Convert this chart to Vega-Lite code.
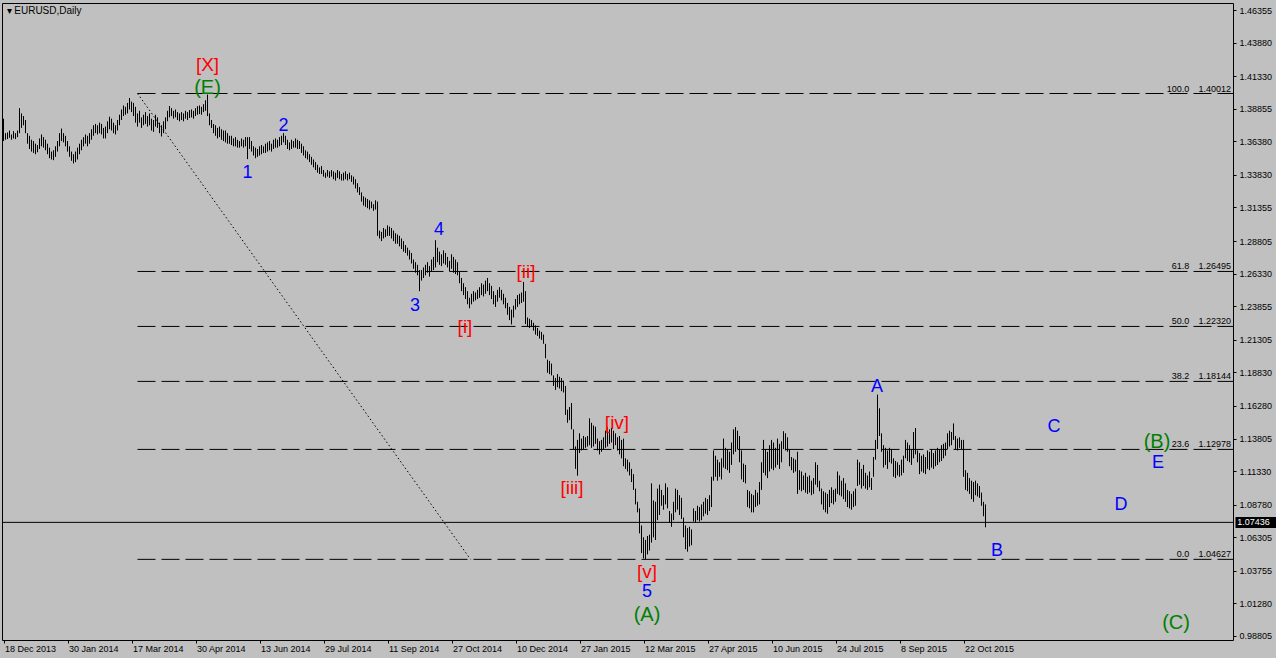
{
"$schema": "https://vega.github.io/schema/vega-lite/v6.json",
"width": 1231, "height": 637,
"autosize": {"type": "none"},
"padding": {"left": 2, "top": 3, "right": 43, "bottom": 18},
"background": "#C0C0C0",
"config": {
  "view": {"stroke": null, "fill": "#C0C0C0"},
  "axis": {"grid": false, "domainColor": "#000000", "tickColor": "#000000", "labelColor": "#000000", "labelFont": "Liberation Sans", "labelFontSize": 9, "domainWidth": 1, "tickWidth": 1}
},
"resolve": {"axis": {"x": "independent", "y": "independent"}},
"datasets": {
"header": [{"t":"▾  EURUSD,Daily"}],
"fib": [
{"pct":"100.0","level":1.40012},{"pct":"61.8","level":1.26495},{"pct":"50.0","level":1.22320},{"pct":"38.2","level":1.18144},{"pct":"23.6","level":1.12978},{"pct":"0.0","level":1.04627}
],
"trend": [{"i1":67,"p1":1.40012,"i2":233.5,"p2":1.04627}],
"current": [{"price":1.07436}],
"waves": [
{"t":"[X]","i":102,"p":1.4215,"deg":"Intermediate"},
{"t":"(E)","i":102,"p":1.4045,"deg":"Primary"},
{"t":"1","i":122,"p":1.3397,"deg":"Minor"},
{"t":"2","i":140,"p":1.3754,"deg":"Minor"},
{"t":"3","i":205.75,"p":1.2387,"deg":"Minor"},
{"t":"4","i":217.75,"p":1.2964,"deg":"Minor"},
{"t":"[i]","i":230.75,"p":1.2228,"deg":"Intermediate"},
{"t":"[ii]","i":261.25,"p":1.2645,"deg":"Intermediate"},
{"t":"[iii]","i":284.25,"p":1.1005,"deg":"Intermediate"},
{"t":"[iv]","i":306.75,"p":1.1498,"deg":"Intermediate"},
{"t":"[v]","i":321.75,"p":1.0365,"deg":"Intermediate"},
{"t":"5","i":321.75,"p":1.0215,"deg":"Minor"},
{"t":"(A)","i":321.75,"p":1.0040,"deg":"Primary"},
{"t":"A","i":436.75,"p":1.1772,"deg":"Minor"},
{"t":"B","i":496.75,"p":1.0526,"deg":"Minor"},
{"t":"C","i":525.25,"p":1.1468,"deg":"Minor"},
{"t":"D","i":558.75,"p":1.0876,"deg":"Minor"},
{"t":"E","i":577.25,"p":1.1195,"deg":"Minor"},
{"t":"(B)","i":576.75,"p":1.1354,"deg":"Primary"},
{"t":"(C)","i":586.25,"p":0.9979,"deg":"Primary"}
],
"bars": [
{"i":0,"h":1.3810,"l":1.3640},{"i":1,"h":1.3700,"l":1.3650},{"i":2,"h":1.3705,"l":1.3655},{"i":3,"h":1.3720,"l":1.3665},{"i":4,"h":1.3690,"l":1.3650},
{"i":5,"h":1.3715,"l":1.3660},{"i":6,"h":1.3700,"l":1.3655},{"i":7,"h":1.3720,"l":1.3670},{"i":8,"h":1.3890,"l":1.3700},{"i":9,"h":1.3850,"l":1.3740},
{"i":10,"h":1.3830,"l":1.3760},{"i":11,"h":1.3800,"l":1.3700},{"i":12,"h":1.3700,"l":1.3620},{"i":13,"h":1.3680,"l":1.3580},{"i":14,"h":1.3650,"l":1.3560},
{"i":15,"h":1.3640,"l":1.3550},{"i":16,"h":1.3620,"l":1.3540},{"i":17,"h":1.3610,"l":1.3555},{"i":18,"h":1.3660,"l":1.3580},{"i":19,"h":1.3690,"l":1.3600},
{"i":20,"h":1.3670,"l":1.3590},{"i":21,"h":1.3650,"l":1.3570},{"i":22,"h":1.3620,"l":1.3540},{"i":23,"h":1.3590,"l":1.3510},{"i":24,"h":1.3560,"l":1.3500},
{"i":25,"h":1.3570,"l":1.3495},{"i":26,"h":1.3600,"l":1.3520},{"i":27,"h":1.3640,"l":1.3560},{"i":28,"h":1.3700,"l":1.3600},{"i":29,"h":1.3735,"l":1.3640},
{"i":30,"h":1.3700,"l":1.3630},{"i":31,"h":1.3680,"l":1.3600},{"i":32,"h":1.3640,"l":1.3560},{"i":33,"h":1.3600,"l":1.3520},{"i":34,"h":1.3560,"l":1.3490},
{"i":35,"h":1.3540,"l":1.3470},{"i":36,"h":1.3560,"l":1.3480},{"i":37,"h":1.3590,"l":1.3500},{"i":38,"h":1.3620,"l":1.3540},{"i":39,"h":1.3650,"l":1.3570},
{"i":40,"h":1.3670,"l":1.3600},{"i":41,"h":1.3690,"l":1.3620},{"i":42,"h":1.3680,"l":1.3600},{"i":43,"h":1.3700,"l":1.3620},{"i":44,"h":1.3730,"l":1.3650},
{"i":45,"h":1.3760,"l":1.3680},{"i":46,"h":1.3770,"l":1.3700},{"i":47,"h":1.3760,"l":1.3690},{"i":48,"h":1.3780,"l":1.3700},{"i":49,"h":1.3770,"l":1.3690},
{"i":50,"h":1.3740,"l":1.3660},{"i":51,"h":1.3750,"l":1.3660},{"i":52,"h":1.3790,"l":1.3700},{"i":53,"h":1.3825,"l":1.3730},{"i":54,"h":1.3810,"l":1.3720},
{"i":55,"h":1.3780,"l":1.3700},{"i":56,"h":1.3760,"l":1.3690},{"i":57,"h":1.3800,"l":1.3720},{"i":58,"h":1.3840,"l":1.3760},{"i":59,"h":1.3880,"l":1.3800},
{"i":60,"h":1.3910,"l":1.3830},{"i":61,"h":1.3900,"l":1.3840},{"i":62,"h":1.3930,"l":1.3850},{"i":63,"h":1.3967,"l":1.3880},{"i":64,"h":1.3940,"l":1.3860},
{"i":65,"h":1.3930,"l":1.3830},{"i":66,"h":1.3900,"l":1.3780},{"i":67,"h":1.3850,"l":1.3750},{"i":68,"h":1.3870,"l":1.3780},{"i":69,"h":1.3820,"l":1.3740},
{"i":70,"h":1.3840,"l":1.3760},{"i":71,"h":1.3860,"l":1.3770},{"i":72,"h":1.3830,"l":1.3750},{"i":73,"h":1.3850,"l":1.3760},{"i":74,"h":1.3810,"l":1.3720},
{"i":75,"h":1.3800,"l":1.3710},{"i":76,"h":1.3840,"l":1.3750},{"i":77,"h":1.3820,"l":1.3740},{"i":78,"h":1.3780,"l":1.3700},{"i":79,"h":1.3760,"l":1.3675},
{"i":80,"h":1.3790,"l":1.3700},{"i":81,"h":1.3820,"l":1.3730},{"i":82,"h":1.3870,"l":1.3790},{"i":83,"h":1.3906,"l":1.3820},{"i":84,"h":1.3890,"l":1.3830},
{"i":85,"h":1.3870,"l":1.3810},{"i":86,"h":1.3880,"l":1.3820},{"i":87,"h":1.3860,"l":1.3800},{"i":88,"h":1.3850,"l":1.3790},{"i":89,"h":1.3860,"l":1.3800},
{"i":90,"h":1.3850,"l":1.3790},{"i":91,"h":1.3870,"l":1.3810},{"i":92,"h":1.3860,"l":1.3800},{"i":93,"h":1.3875,"l":1.3815},{"i":94,"h":1.3880,"l":1.3820},
{"i":95,"h":1.3870,"l":1.3810},{"i":96,"h":1.3890,"l":1.3830},{"i":97,"h":1.3905,"l":1.3840},{"i":98,"h":1.3910,"l":1.3845},{"i":99,"h":1.3900,"l":1.3840},
{"i":100,"h":1.3920,"l":1.3860},{"i":101,"h":1.3950,"l":1.3870},{"i":102,"h":1.3993,"l":1.3830},{"i":103,"h":1.3850,"l":1.3760},{"i":104,"h":1.3800,"l":1.3740},
{"i":105,"h":1.3770,"l":1.3700},{"i":106,"h":1.3760,"l":1.3680},{"i":107,"h":1.3740,"l":1.3660},{"i":108,"h":1.3750,"l":1.3670},{"i":109,"h":1.3730,"l":1.3650},
{"i":110,"h":1.3720,"l":1.3640},{"i":111,"h":1.3720,"l":1.3630},{"i":112,"h":1.3700,"l":1.3620},{"i":113,"h":1.3680,"l":1.3620},{"i":114,"h":1.3680,"l":1.3610},
{"i":115,"h":1.3660,"l":1.3600},{"i":116,"h":1.3670,"l":1.3600},{"i":117,"h":1.3650,"l":1.3590},{"i":118,"h":1.3640,"l":1.3590},{"i":119,"h":1.3660,"l":1.3600},
{"i":120,"h":1.3650,"l":1.3590},{"i":121,"h":1.3670,"l":1.3600},{"i":122,"h":1.3670,"l":1.3503},{"i":123,"h":1.3670,"l":1.3580},{"i":124,"h":1.3640,"l":1.3560},
{"i":125,"h":1.3600,"l":1.3530},{"i":126,"h":1.3590,"l":1.3510},{"i":127,"h":1.3580,"l":1.3520},{"i":128,"h":1.3600,"l":1.3530},{"i":129,"h":1.3610,"l":1.3540},
{"i":130,"h":1.3600,"l":1.3550},{"i":131,"h":1.3620,"l":1.3550},{"i":132,"h":1.3630,"l":1.3560},{"i":133,"h":1.3640,"l":1.3570},{"i":134,"h":1.3620,"l":1.3560},
{"i":135,"h":1.3650,"l":1.3580},{"i":136,"h":1.3660,"l":1.3590},{"i":137,"h":1.3650,"l":1.3590},{"i":138,"h":1.3670,"l":1.3600},{"i":139,"h":1.3680,"l":1.3610},
{"i":140,"h":1.3700,"l":1.3630},{"i":141,"h":1.3680,"l":1.3610},{"i":142,"h":1.3650,"l":1.3580},{"i":143,"h":1.3630,"l":1.3570},{"i":144,"h":1.3650,"l":1.3580},
{"i":145,"h":1.3640,"l":1.3590},{"i":146,"h":1.3660,"l":1.3590},{"i":147,"h":1.3650,"l":1.3580},{"i":148,"h":1.3640,"l":1.3580},{"i":149,"h":1.3620,"l":1.3550},
{"i":150,"h":1.3600,"l":1.3530},{"i":151,"h":1.3570,"l":1.3510},{"i":152,"h":1.3560,"l":1.3500},{"i":153,"h":1.3540,"l":1.3480},{"i":154,"h":1.3520,"l":1.3460},
{"i":155,"h":1.3500,"l":1.3440},{"i":156,"h":1.3480,"l":1.3420},{"i":157,"h":1.3460,"l":1.3400},{"i":158,"h":1.3440,"l":1.3390},{"i":159,"h":1.3450,"l":1.3390},
{"i":160,"h":1.3420,"l":1.3370},{"i":161,"h":1.3400,"l":1.3360},{"i":162,"h":1.3420,"l":1.3370},{"i":163,"h":1.3410,"l":1.3360},{"i":164,"h":1.3420,"l":1.3370},
{"i":165,"h":1.3410,"l":1.3350},{"i":166,"h":1.3400,"l":1.3340},{"i":167,"h":1.3420,"l":1.3360},{"i":168,"h":1.3410,"l":1.3350},{"i":169,"h":1.3390,"l":1.3340},
{"i":170,"h":1.3400,"l":1.3340},{"i":171,"h":1.3410,"l":1.3350},{"i":172,"h":1.3390,"l":1.3340},{"i":173,"h":1.3400,"l":1.3350},{"i":174,"h":1.3380,"l":1.3330},
{"i":175,"h":1.3370,"l":1.3310},{"i":176,"h":1.3350,"l":1.3280},{"i":177,"h":1.3320,"l":1.3250},{"i":178,"h":1.3290,"l":1.3230},{"i":179,"h":1.3250,"l":1.3180},
{"i":180,"h":1.3220,"l":1.3150},{"i":181,"h":1.3210,"l":1.3140},{"i":182,"h":1.3200,"l":1.3130},{"i":183,"h":1.3190,"l":1.3120},{"i":184,"h":1.3180,"l":1.3130},
{"i":185,"h":1.3160,"l":1.3110},{"i":186,"h":1.3190,"l":1.3120},{"i":187,"h":1.3180,"l":1.2920},{"i":188,"h":1.2960,"l":1.2900},{"i":189,"h":1.2950,"l":1.2880},
{"i":190,"h":1.2980,"l":1.2900},{"i":191,"h":1.2970,"l":1.2910},{"i":192,"h":1.3000,"l":1.2920},{"i":193,"h":1.2990,"l":1.2920},{"i":194,"h":1.2980,"l":1.2900},
{"i":195,"h":1.2960,"l":1.2880},{"i":196,"h":1.2940,"l":1.2860},{"i":197,"h":1.2930,"l":1.2860},{"i":198,"h":1.2920,"l":1.2840},{"i":199,"h":1.2900,"l":1.2820},
{"i":200,"h":1.2880,"l":1.2800},{"i":201,"h":1.2850,"l":1.2790},{"i":202,"h":1.2830,"l":1.2770},{"i":203,"h":1.2810,"l":1.2740},{"i":204,"h":1.2790,"l":1.2710},
{"i":205,"h":1.2740,"l":1.2670},{"i":206,"h":1.2720,"l":1.2640},{"i":207,"h":1.2700,"l":1.2620},{"i":208,"h":1.2660,"l":1.2500},{"i":209,"h":1.2660,"l":1.2580},
{"i":210,"h":1.2680,"l":1.2600},{"i":211,"h":1.2700,"l":1.2620},{"i":212,"h":1.2720,"l":1.2640},{"i":213,"h":1.2690,"l":1.2610},{"i":214,"h":1.2740,"l":1.2650},
{"i":215,"h":1.2760,"l":1.2660},{"i":216,"h":1.2887,"l":1.2680},{"i":217,"h":1.2830,"l":1.2720},{"i":218,"h":1.2800,"l":1.2700},{"i":219,"h":1.2780,"l":1.2690},
{"i":220,"h":1.2810,"l":1.2710},{"i":221,"h":1.2790,"l":1.2700},{"i":222,"h":1.2760,"l":1.2680},{"i":223,"h":1.2730,"l":1.2650},{"i":224,"h":1.2780,"l":1.2670},
{"i":225,"h":1.2760,"l":1.2640},{"i":226,"h":1.2740,"l":1.2630},{"i":227,"h":1.2720,"l":1.2620},{"i":228,"h":1.2650,"l":1.2560},{"i":229,"h":1.2600,"l":1.2500},
{"i":230,"h":1.2560,"l":1.2470},{"i":231,"h":1.2530,"l":1.2440},{"i":232,"h":1.2500,"l":1.2400},{"i":233,"h":1.2450,"l":1.2370},{"i":234,"h":1.2480,"l":1.2400},
{"i":235,"h":1.2500,"l":1.2420},{"i":236,"h":1.2490,"l":1.2430},{"i":237,"h":1.2510,"l":1.2440},{"i":238,"h":1.2530,"l":1.2450},{"i":239,"h":1.2560,"l":1.2470},
{"i":240,"h":1.2550,"l":1.2460},{"i":241,"h":1.2580,"l":1.2480},{"i":242,"h":1.2600,"l":1.2500},{"i":243,"h":1.2560,"l":1.2470},{"i":244,"h":1.2540,"l":1.2440},
{"i":245,"h":1.2500,"l":1.2400},{"i":246,"h":1.2470,"l":1.2380},{"i":247,"h":1.2510,"l":1.2420},{"i":248,"h":1.2530,"l":1.2450},{"i":249,"h":1.2510,"l":1.2430},
{"i":250,"h":1.2480,"l":1.2400},{"i":251,"h":1.2450,"l":1.2370},{"i":252,"h":1.2410,"l":1.2320},{"i":253,"h":1.2380,"l":1.2280},{"i":254,"h":1.2360,"l":1.2247},
{"i":255,"h":1.2390,"l":1.2300},{"i":256,"h":1.2440,"l":1.2360},{"i":257,"h":1.2470,"l":1.2380},{"i":258,"h":1.2480,"l":1.2400},{"i":259,"h":1.2490,"l":1.2410},
{"i":260,"h":1.2570,"l":1.2420},{"i":261,"h":1.2500,"l":1.2250},{"i":262,"h":1.2300,"l":1.2230},{"i":263,"h":1.2290,"l":1.2220},{"i":264,"h":1.2280,"l":1.2230},
{"i":265,"h":1.2260,"l":1.2200},{"i":266,"h":1.2240,"l":1.2170},{"i":267,"h":1.2220,"l":1.2160},{"i":268,"h":1.2200,"l":1.2140},{"i":269,"h":1.2190,"l":1.2130},
{"i":270,"h":1.2170,"l":1.2100},{"i":271,"h":1.2100,"l":1.1990},{"i":272,"h":1.1980,"l":1.1880},{"i":273,"h":1.1970,"l":1.1870},{"i":274,"h":1.1950,"l":1.1860},
{"i":275,"h":1.1860,"l":1.1780},{"i":276,"h":1.1840,"l":1.1750},{"i":277,"h":1.1870,"l":1.1770},{"i":278,"h":1.1850,"l":1.1760},{"i":279,"h":1.1840,"l":1.1740},
{"i":280,"h":1.1820,"l":1.1730},{"i":281,"h":1.1780,"l":1.1560},{"i":282,"h":1.1600,"l":1.1500},{"i":283,"h":1.1620,"l":1.1520},{"i":284,"h":1.1650,"l":1.1450},
{"i":285,"h":1.1450,"l":1.1300},{"i":286,"h":1.1320,"l":1.1150},{"i":287,"h":1.1370,"l":1.1098},{"i":288,"h":1.1420,"l":1.1270},{"i":289,"h":1.1380,"l":1.1290},
{"i":290,"h":1.1400,"l":1.1300},{"i":291,"h":1.1390,"l":1.1310},{"i":292,"h":1.1400,"l":1.1320},{"i":293,"h":1.1534,"l":1.1330},{"i":294,"h":1.1500,"l":1.1310},
{"i":295,"h":1.1480,"l":1.1320},{"i":296,"h":1.1470,"l":1.1340},{"i":297,"h":1.1380,"l":1.1290},{"i":298,"h":1.1360,"l":1.1260},{"i":299,"h":1.1370,"l":1.1280},
{"i":300,"h":1.1390,"l":1.1300},{"i":301,"h":1.1440,"l":1.1310},{"i":302,"h":1.1470,"l":1.1320},{"i":303,"h":1.1450,"l":1.1340},{"i":304,"h":1.1460,"l":1.1350},
{"i":305,"h":1.1440,"l":1.1300},{"i":306,"h":1.1420,"l":1.1330},{"i":307,"h":1.1390,"l":1.1290},{"i":308,"h":1.1400,"l":1.1260},{"i":309,"h":1.1370,"l":1.1230},
{"i":310,"h":1.1380,"l":1.1170},{"i":311,"h":1.1230,"l":1.1150},{"i":312,"h":1.1220,"l":1.1130},{"i":313,"h":1.1200,"l":1.1100},{"i":314,"h":1.1150,"l":1.1050},
{"i":315,"h":1.1110,"l":1.0990},{"i":316,"h":1.1000,"l":1.0880},{"i":317,"h":1.0900,"l":1.0820},{"i":318,"h":1.0850,"l":1.0660},{"i":319,"h":1.0720,"l":1.0510},
{"i":320,"h":1.0630,"l":1.0470},{"i":321,"h":1.0610,"l":1.0462},{"i":322,"h":1.0640,"l":1.0500},{"i":323,"h":1.0650,"l":1.0530},{"i":324,"h":1.1040,"l":1.0590},
{"i":325,"h":1.0910,"l":1.0630},{"i":326,"h":1.0900,"l":1.0610},{"i":327,"h":1.1000,"l":1.0760},{"i":328,"h":1.1030,"l":1.0800},{"i":329,"h":1.0990,"l":1.0870},
{"i":330,"h":1.0950,"l":1.0840},{"i":331,"h":1.1040,"l":1.0880},{"i":332,"h":1.1010,"l":1.0850},{"i":333,"h":1.0830,"l":1.0740},{"i":334,"h":1.0810,"l":1.0710},
{"i":335,"h":1.0900,"l":1.0760},{"i":336,"h":1.1000,"l":1.0820},{"i":337,"h":1.0990,"l":1.0840},{"i":338,"h":1.0950,"l":1.0800},{"i":339,"h":1.0930,"l":1.0770},
{"i":340,"h":1.0780,"l":1.0630},{"i":341,"h":1.0720,"l":1.0540},{"i":342,"h":1.0700,"l":1.0521},{"i":343,"h":1.0710,"l":1.0560},{"i":344,"h":1.0690,"l":1.0570},
{"i":345,"h":1.0850,"l":1.0750},{"i":346,"h":1.0830,"l":1.0740},{"i":347,"h":1.0870,"l":1.0760},{"i":348,"h":1.0860,"l":1.0750},{"i":349,"h":1.0880,"l":1.0760},
{"i":350,"h":1.0900,"l":1.0790},{"i":351,"h":1.0930,"l":1.0810},{"i":352,"h":1.0920,"l":1.0800},{"i":353,"h":1.0950,"l":1.0830},{"i":354,"h":1.1090,"l":1.0860},
{"i":355,"h":1.1290,"l":1.1060},{"i":356,"h":1.1250,"l":1.1090},{"i":357,"h":1.1220,"l":1.1060},{"i":358,"h":1.1200,"l":1.1090},{"i":359,"h":1.1230,"l":1.1070},
{"i":360,"h":1.1380,"l":1.1160},{"i":361,"h":1.1310,"l":1.1150},{"i":362,"h":1.1300,"l":1.1140},{"i":363,"h":1.1280,"l":1.1120},{"i":364,"h":1.1350,"l":1.1180},
{"i":365,"h":1.1450,"l":1.1260},{"i":366,"h":1.1467,"l":1.1280},{"i":367,"h":1.1440,"l":1.1300},{"i":368,"h":1.1400,"l":1.1200},{"i":369,"h":1.1290,"l":1.1070},
{"i":370,"h":1.1190,"l":1.1050},{"i":371,"h":1.1180,"l":1.1040},{"i":372,"h":1.0990,"l":1.0860},{"i":373,"h":1.0980,"l":1.0850},{"i":374,"h":1.0960,"l":1.0820},
{"i":375,"h":1.0950,"l":1.0819},{"i":376,"h":1.0990,"l":1.0860},{"i":377,"h":1.0970,"l":1.0870},{"i":378,"h":1.1050,"l":1.0880},{"i":379,"h":1.1200,"l":1.0990},
{"i":380,"h":1.1370,"l":1.1120},{"i":381,"h":1.1300,"l":1.1100},{"i":382,"h":1.1280,"l":1.1080},{"i":383,"h":1.1330,"l":1.1130},{"i":384,"h":1.1370,"l":1.1150},
{"i":385,"h":1.1350,"l":1.1140},{"i":386,"h":1.1310,"l":1.1160},{"i":387,"h":1.1380,"l":1.1180},{"i":388,"h":1.1340,"l":1.1150},{"i":389,"h":1.1360,"l":1.1200},
{"i":390,"h":1.1436,"l":1.1300},{"i":391,"h":1.1420,"l":1.1290},{"i":392,"h":1.1390,"l":1.1280},{"i":393,"h":1.1300,"l":1.1170},{"i":394,"h":1.1240,"l":1.1140},
{"i":395,"h":1.1230,"l":1.1120},{"i":396,"h":1.1220,"l":1.1130},{"i":397,"h":1.1280,"l":1.0960},{"i":398,"h":1.1140,"l":1.0990},{"i":399,"h":1.1130,"l":1.0980},
{"i":400,"h":1.1100,"l":1.0990},{"i":401,"h":1.1120,"l":1.0970},{"i":402,"h":1.1090,"l":1.0960},{"i":403,"h":1.1100,"l":1.0970},{"i":404,"h":1.1060,"l":1.0950},
{"i":405,"h":1.1080,"l":1.0960},{"i":406,"h":1.1200,"l":1.1030},{"i":407,"h":1.1180,"l":1.1010},{"i":408,"h":1.1060,"l":1.0980},{"i":409,"h":1.1000,"l":1.0880},
{"i":410,"h":1.0980,"l":1.0840},{"i":411,"h":1.0970,"l":1.0820},{"i":412,"h":1.0960,"l":1.0809},{"i":413,"h":1.0990,"l":1.0860},{"i":414,"h":1.1010,"l":1.0890},
{"i":415,"h":1.0990,"l":1.0880},{"i":416,"h":1.1000,"l":1.0900},{"i":417,"h":1.1130,"l":1.0960},{"i":418,"h":1.1100,"l":1.0950},{"i":419,"h":1.1060,"l":1.0940},
{"i":420,"h":1.1080,"l":1.0920},{"i":421,"h":1.1040,"l":1.0900},{"i":422,"h":1.0990,"l":1.0860},{"i":423,"h":1.0980,"l":1.0850},{"i":424,"h":1.0960,"l":1.0840},
{"i":425,"h":1.0980,"l":1.0860},{"i":426,"h":1.1000,"l":1.0870},{"i":427,"h":1.1220,"l":1.1020},{"i":428,"h":1.1200,"l":1.1030},{"i":429,"h":1.1150,"l":1.1000},
{"i":430,"h":1.1180,"l":1.1020},{"i":431,"h":1.1120,"l":1.1000},{"i":432,"h":1.1100,"l":1.0990},{"i":433,"h":1.1130,"l":1.1010},{"i":434,"h":1.1080,"l":1.0990},
{"i":435,"h":1.1240,"l":1.1090},{"i":436,"h":1.1370,"l":1.1220},{"i":437,"h":1.1714,"l":1.1300},{"i":438,"h":1.1610,"l":1.1400},{"i":439,"h":1.1420,"l":1.1280},
{"i":440,"h":1.1330,"l":1.1160},{"i":441,"h":1.1310,"l":1.1180},{"i":442,"h":1.1290,"l":1.1150},{"i":443,"h":1.1310,"l":1.1200},{"i":444,"h":1.1300,"l":1.1190},
{"i":445,"h":1.1230,"l":1.1090},{"i":446,"h":1.1210,"l":1.1080},{"i":447,"h":1.1200,"l":1.1100},{"i":448,"h":1.1180,"l":1.1090},{"i":449,"h":1.1220,"l":1.1100},
{"i":450,"h":1.1250,"l":1.1120},{"i":451,"h":1.1370,"l":1.1230},{"i":452,"h":1.1350,"l":1.1210},{"i":453,"h":1.1330,"l":1.1200},{"i":454,"h":1.1300,"l":1.1180},
{"i":455,"h":1.1430,"l":1.1230},{"i":456,"h":1.1460,"l":1.1260},{"i":457,"h":1.1290,"l":1.1200},{"i":458,"h":1.1270,"l":1.1110},{"i":459,"h":1.1250,"l":1.1130},
{"i":460,"h":1.1260,"l":1.1120},{"i":461,"h":1.1240,"l":1.1110},{"i":462,"h":1.1290,"l":1.1150},{"i":463,"h":1.1280,"l":1.1140},{"i":464,"h":1.1300,"l":1.1160},
{"i":465,"h":1.1270,"l":1.1150},{"i":466,"h":1.1290,"l":1.1170},{"i":467,"h":1.1310,"l":1.1180},{"i":468,"h":1.1300,"l":1.1200},{"i":469,"h":1.1330,"l":1.1210},
{"i":470,"h":1.1340,"l":1.1230},{"i":471,"h":1.1350,"l":1.1250},{"i":472,"h":1.1420,"l":1.1300},{"i":473,"h":1.1440,"l":1.1320},{"i":474,"h":1.1430,"l":1.1330},
{"i":475,"h":1.1495,"l":1.1370},{"i":476,"h":1.1400,"l":1.1300},{"i":477,"h":1.1380,"l":1.1290},{"i":478,"h":1.1390,"l":1.1310},{"i":479,"h":1.1370,"l":1.1300},
{"i":480,"h":1.1370,"l":1.1090},{"i":481,"h":1.1140,"l":1.0990},{"i":482,"h":1.1120,"l":1.0980},{"i":483,"h":1.1080,"l":1.0960},{"i":484,"h":1.1060,"l":1.0920},
{"i":485,"h":1.1050,"l":1.0900},{"i":486,"h":1.1060,"l":1.0950},{"i":487,"h":1.1040,"l":1.0940},{"i":488,"h":1.1020,"l":1.0930},{"i":489,"h":1.0970,"l":1.0870},
{"i":490,"h":1.0900,"l":1.0790},{"i":491,"h":1.0880,"l":1.0706}
]
},
"layer": [
{
  "data": {"name": "fib"},
  "mark": {"type": "rule", "color": "#000000", "strokeWidth": 1, "strokeDash": [18, 6]},
  "encoding": {
    "x": {"datum": 67, "type": "quantitative", "scale": {"domain": [-0.75, 614.75], "nice": false, "zero": false}, "axis": {"orient": "top", "labels": false, "ticks": false, "title": null}},
    "x2": {"datum": 614.75},
    "y": {"field": "level", "type": "quantitative", "scale": {"domain": [0.98501, 1.46887], "nice": false, "zero": false}, "axis": {"orient": "left", "labels": false, "ticks": false, "title": null}}
  }
},
{
  "data": {"name": "trend"},
  "mark": {"type": "rule", "color": "#000000", "strokeWidth": 1, "strokeDash": [1.5, 2.5]},
  "encoding": {
    "x": {"field": "i1", "type": "quantitative", "axis": null},
    "x2": {"field": "i2"},
    "y": {"field": "p1", "type": "quantitative", "axis": null},
    "y2": {"field": "p2"}
  }
},
{
  "data": {"name": "current"},
  "mark": {"type": "rule", "color": "#000000", "strokeWidth": 1},
  "encoding": {
    "y": {"field": "price", "type": "quantitative", "axis": null}
  }
},
{
  "data": {"name": "bars"},
  "mark": {"type": "rule", "color": "#000000", "strokeWidth": 1},
  "encoding": {
    "x": {"field": "i", "type": "quantitative", "axis": {"orient": "bottom", "title": null, "values": [0,32,64,96,128,160,192,224,256,288,320,352,384,416,448,480], "labelExpr": "['18 Dec 2013','30 Jan 2014','17 Mar 2014','30 Apr 2014','13 Jun 2014','29 Jul 2014','11 Sep 2014','27 Oct 2014','10 Dec 2014','27 Jan 2015','12 Mar 2015','27 Apr 2015','10 Jun 2015','24 Jul 2015','8 Sep 2015','22 Oct 2015'][round(datum.value/32)]", "labelAlign": "left", "labelBaseline": "top", "labelOffset": 1, "tickSize": 3, "labelPadding": 1, "labelFlush": false, "labelOverlap": false, "labelBound": false}},
    "y": {"field": "h", "type": "quantitative", "axis": {"orient": "right", "title": null, "values": [1.46355,1.4388,1.4133,1.38855,1.3638,1.3383,1.31355,1.28805,1.2633,1.23855,1.21305,1.1883,1.1628,1.13805,1.1133,1.0878,1.06305,1.03755,1.0128,0.98805], "format": ".5f", "tickSize": 3, "labelPadding": 3, "labelFlush": false, "labelOverlap": false, "labelBound": false}},
    "y2": {"field": "l"}
  }
},
{
  "data": {"name": "fib"},
  "mark": {"type": "text", "align": "right", "baseline": "alphabetic", "dy": -2, "font": "Liberation Sans", "fontSize": 9, "color": "#000000"},
  "encoding": {
    "x": {"datum": 592.9, "type": "quantitative", "axis": null},
    "y": {"field": "level", "type": "quantitative", "axis": null},
    "text": {"field": "pct"}
  }
},
{
  "data": {"name": "fib"},
  "mark": {"type": "text", "align": "right", "baseline": "alphabetic", "dy": -2, "font": "Liberation Sans", "fontSize": 9, "color": "#000000"},
  "encoding": {
    "x": {"datum": 613.8, "type": "quantitative", "axis": null},
    "y": {"field": "level", "type": "quantitative", "axis": null},
    "text": {"field": "level", "format": ".5f"}
  }
},
{
  "data": {"name": "waves"},
  "mark": {"type": "text", "align": "center", "baseline": "middle", "font": "Liberation Sans"},
  "encoding": {
    "x": {"field": "i", "type": "quantitative", "axis": null},
    "y": {"field": "p", "type": "quantitative", "axis": null},
    "text": {"field": "t"},
    "color": {"field": "deg", "type": "nominal", "scale": {"domain": ["Primary", "Intermediate", "Minor"], "range": ["#008000", "#FF0000", "#0000FF"]}, "legend": null},
    "size": {"field": "deg", "type": "ordinal", "scale": {"domain": ["Primary", "Intermediate", "Minor"], "range": [20, 18, 18]}, "legend": null}
  }
},
{
  "data": {"name": "header"},
  "mark": {"type": "text", "align": "left", "baseline": "alphabetic", "font": "Liberation Sans", "fontSize": 10, "color": "#000000"},
  "encoding": {
    "x": {"datum": 1.5, "type": "quantitative", "axis": null},
    "y": {"datum": 1.4603, "type": "quantitative", "axis": null},
    "text": {"field": "t"}
  }
},
{
  "data": {"name": "current"},
  "mark": {"type": "rect", "color": "#000000"},
  "encoding": {
    "x": {"datum": 616, "type": "quantitative", "axis": null},
    "x2": {"datum": 640},
    "y": {"datum": 1.0784, "type": "quantitative", "axis": null},
    "y2": {"datum": 1.0701}
  }
},
{
  "data": {"name": "current"},
  "mark": {"type": "text", "align": "left", "baseline": "middle", "font": "Liberation Sans", "fontSize": 9, "color": "#FFFFFF"},
  "encoding": {
    "x": {"datum": 616.9, "type": "quantitative", "axis": null},
    "y": {"field": "price", "type": "quantitative", "axis": null},
    "text": {"field": "price", "format": ".5f"}
  }
}
]
}
